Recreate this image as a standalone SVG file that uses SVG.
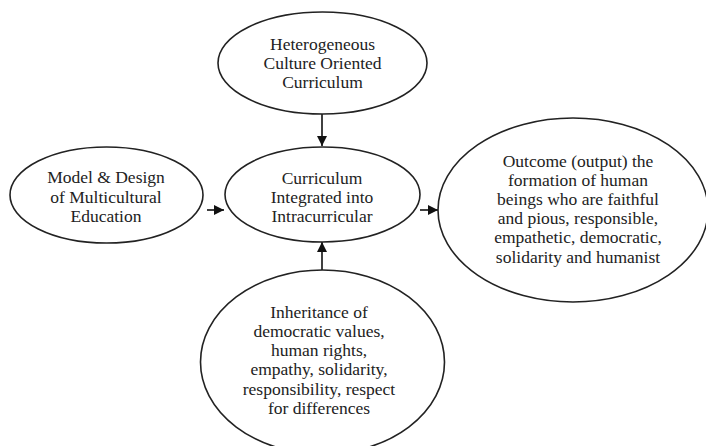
<svg xmlns="http://www.w3.org/2000/svg" width="706" height="446" viewBox="0 0 706 446">
<defs>
<marker id="ah" viewBox="0 0 10 10" refX="10" refY="5" markerWidth="10" markerHeight="10" markerUnits="userSpaceOnUse" orient="auto">
<path d="M0,0 L10,5 L0,10 Z" fill="#111"/>
</marker>
<style>
.n{fill:#fff;stroke:#222;stroke-width:1.6}
.t{font-size:17.5px;fill:#222;text-anchor:middle}
.c{stroke:#111;stroke-width:1.6;fill:none;marker-end:url(#ah)}
</style>
</defs>
<rect width="706" height="446" fill="#fff"/>
<g id="connectors">
<line class="c" x1="322" y1="114" x2="322" y2="146"/>
<line class="c" x1="207" y1="210" x2="224" y2="210"/>
<line class="c" x1="420" y1="210" x2="438" y2="210"/>
<line class="c" x1="322" y1="270" x2="322" y2="242"/>
</g>
<g font-family="'Liberation Serif', serif">
<g id="hetero">
<ellipse class="n" cx="322.5" cy="63" rx="104.5" ry="51"/>
<text class="t" x="322.5" y="50">Heterogeneous</text>
<text class="t" x="322.5" y="69">Culture Oriented</text>
<text class="t" x="322.5" y="88">Curriculum</text>
</g>
<g id="model">
<ellipse class="n" cx="106.5" cy="195" rx="96.5" ry="48"/>
<text class="t" x="106" y="183">Model &amp; Design</text>
<text class="t" x="106" y="203">of Multicultural</text>
<text class="t" x="106" y="222">Education</text>
</g>
<g id="curriculum">
<ellipse class="n" cx="322.5" cy="194.5" rx="97.5" ry="47.5"/>
<text class="t" x="322" y="184">Curriculum</text>
<text class="t" x="322" y="203">Integrated into</text>
<text class="t" x="322" y="222">Intracurricular</text>
</g>
<g id="outcome">
<ellipse class="n" cx="573" cy="210" rx="135" ry="92"/>
<text class="t" x="578" y="167">Outcome (output) the</text>
<text class="t" x="578" y="186">formation of human</text>
<text class="t" x="578" y="205">beings who are faithful</text>
<text class="t" x="578" y="224">and pious, responsible,</text>
<text class="t" x="578" y="243">empathetic, democratic,</text>
<text class="t" x="578" y="263">solidarity and humanist</text>
</g>
<g id="inheritance">
<ellipse class="n" cx="322.5" cy="362" rx="122" ry="92"/>
<text class="t" x="319" y="318">Inheritance of</text>
<text class="t" x="319" y="337">democratic values,</text>
<text class="t" x="319" y="356">human rights,</text>
<text class="t" x="319" y="375">empathy, solidarity,</text>
<text class="t" x="319" y="395">responsibility, respect</text>
<text class="t" x="319" y="414">for differences</text>
</g>
</g>
</svg>
